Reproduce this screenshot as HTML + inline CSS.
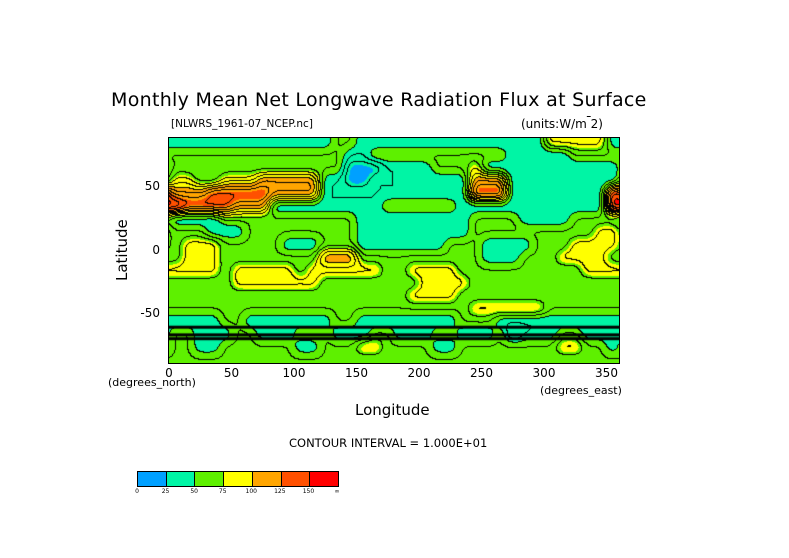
<!DOCTYPE html>
<html><head><meta charset="utf-8">
<style>
body{margin:0;background:#fff;}
#root{position:relative;width:789px;height:558px;background:#fff;font-family:"DejaVu Sans","Liberation Sans",sans-serif;color:#000;overflow:hidden}
.t{position:absolute;white-space:nowrap}
</style></head>
<body>
<div id="root">
<div class="t" style="left:111px;top:89px;font-size:19px;letter-spacing:0.3px">Monthly Mean Net Longwave Radiation Flux at Surface</div>
<div class="t" style="left:171px;top:118px;font-size:10.5px">[NLWRS_1961-07_NCEP.nc]</div>
<div class="t" style="left:521px;top:117px;font-size:12px">(units:W/m<span style="text-decoration:overline">&nbsp;</span>2)</div>
<canvas id="map" width="450" height="225" style="position:absolute;left:169px;top:138px"></canvas>
<div style="position:absolute;left:168px;top:137px;width:450px;height:225px;border:1px solid #000"></div>
<div class="t" style="left:92px;top:242px;font-size:15px;transform:rotate(-90deg);transform-origin:30px 9px;width:60px;text-align:center">Latitude</div>
<div class="t" style="left:108px;top:376px;font-size:11px">(degrees_north)</div>
<div class="t" style="left:540px;top:384px;font-size:11px">(degrees_east)</div>
<div class="t" style="left:355px;top:401px;font-size:15px">Longitude</div>
<div class="t" style="left:289px;top:436px;font-size:11.5px">CONTOUR INTERVAL = 1.000E+01</div>
<div id="cb" style="position:absolute;left:137px;top:471px;width:200px;height:14px;border:1px solid #000;display:flex"></div>
</div>
<script>
const lonTicks=[0,50,100,150,200,250,300,350];
const latTicks=[50,0,-50];
const levelColors=["#00a0ff","#00f5a5","#5ef000","#ffff00","#ffa500","#ff5000","#ff0000"];
const levelLabels=["0","25","50","75","100","125","150","\u221e"];
const codeValues={B:20,C:40,G:62,Y:85,O:112,D:135,R:160};
const rowLats=[85,75,65,55,45,35,25,15,5,-5,-15,-25,-35,-45,-55,-65,-75,-85];
const gridRows=[
"CCCCCCCCCCCCCGGCCCCCCCCCCCCCCCYYYYYC",
"GGGGGGGGGGGGGGCCGGGGGGGGGGGCCCCCGGGG",
"GGGGGGGGGGGGGGBBBCCCCGGGYCCCCCCCCCCC",
"YYGGYYYOOOOOCCBBCCCCCCCCOOOCCCCCCCCC",
"OOODDDDDOOOOCCCCCCCCCCCCDDDCCCCCCCCR",
"RDDDDOOOCCCCCCCCCGGGGGGCCCCCCCCCCCCR",
"CCCCGGGGGGGGGGGCCCCCCCCCGGGGCCCCGGGG",
"GGGCCCGGGGGGGGGCCCCCCCCCGGGGGGGGGGYY",
"GYYYGGGGGCCCGGGCCCCCCCGGGCCCCGGGYYYY",
"GYYYGGGGGGGGOOOGGGGGGGGGGCCCGGGYYYYG",
"YYYYGYYYYYGYYYYYYGGYYYYGGGGGGGGGGYYY",
"GGGGGYYYYYYYGGGGGGGGYYYYGGGGGGGGGGGG",
"GGGGGGGGGGGGGGGGGGGYYYYGGGGGGGGGGGGG",
"GGGGGGGGGGGGGGGGGGGGGGGGYYYYYYGGGGGG",
"CCCCGGCCCCCCCGGCCCCCCCCGGGCCCCCCCCCC",
"GGCCCGGCCCGGGCCCGGCCCGGCCCGBCCCGGCCC",
"GGCCGGGGGGCCGGGYYGGGGCCGGGGGGGGYYGGC",
"GGGGGGGGGGGGGGGGGGGGGGGGGGGGGGGGGGGG"];
const bandLats=[-60,-66,-69];
const X0=169,W=450,Y0=138,H=225,LATTOP=88,LATBOT=-88;
function xOf(lon){return X0+lon/360*W;}
function yOf(lat){return Y0+(LATTOP-lat)/(LATTOP-LATBOT)*H;}
function val(i,j){const r=gridRows[Math.max(0,Math.min(gridRows.length-1,j))];return codeValues[r[((i%36)+36)%36]];}
function field(lon,lat){
 let fi=(lon-5)/10; let fj=(rowLats[0]-lat)/10;
 fj=Math.max(0,Math.min(rowLats.length-1,fj));
 const i0=Math.floor(fi),j0=Math.floor(fj),a=fi-i0,b=fj-j0;
 return (1-a)*(1-b)*val(i0,j0)+a*(1-b)*val(i0+1,j0)+(1-a)*b*val(i0,j0+1)+a*b*val(i0+1,j0+1);
}
const cv=document.getElementById('map'),ctx=cv.getContext('2d');
const img=ctx.createImageData(W,H);
let vals=new Float32Array(W*H);
for(let y=0;y<H;y++)for(let x=0;x<W;x++){
 const lon=x/W*360,lat=LATTOP-y/H*(LATTOP-LATBOT);
 vals[y*W+x]=field(lon,lat);
}
// box blur to round shapes
function blur(src,r){
 const tmp=new Float32Array(W*H),out=new Float32Array(W*H);
 for(let y=0;y<H;y++)for(let x=0;x<W;x++){let s=0,n=0;for(let k=-r;k<=r;k++){const xx=((x+k)%W+W)%W;s+=src[y*W+xx];n++;}tmp[y*W+x]=s/n;}
 for(let y=0;y<H;y++)for(let x=0;x<W;x++){let s=0,n=0;for(let k=-r;k<=r;k++){const yy=Math.max(0,Math.min(H-1,y+k));s+=tmp[yy*W+x];n++;}out[y*W+x]=s/n;}
 return out;
}
vals=blur(vals,5);
function hex(c){return [parseInt(c.substr(1,2),16),parseInt(c.substr(3,2),16),parseInt(c.substr(5,2),16)];}
const rgb=levelColors.map(hex);
for(let y=0;y<H;y++)for(let x=0;x<W;x++){
 const v=vals[y*W+x];
 let k=Math.min(6,Math.max(0,Math.floor(v/25)));
 let c=rgb[k];
 const f=Math.floor(v/10);
 if((x+1<W&&Math.floor(vals[y*W+x+1]/10)!==f)||(y+1<H&&Math.floor(vals[(y+1)*W+x]/10)!==f))c=[0,0,0];
 const p=(y*W+x)*4;img.data[p]=c[0];img.data[p+1]=c[1];img.data[p+2]=c[2];img.data[p+3]=255;
}
ctx.putImageData(img,0,0);
ctx.fillStyle='#000';
bandLats.forEach(l=>{const y=yOf(l)-Y0;ctx.fillRect(0,y-1.5,W,3);});
const root=document.getElementById('root');
lonTicks.forEach(l=>{
 const d=document.createElement('div');d.className='t';
 
 
 d.textContent=l;d.style.fontSize='12px';d.style.top='366px';
 d.style.left=(xOf(l)-30)+'px';d.style.width='60px';d.style.textAlign='center';
 root.appendChild(d);
});
latTicks.forEach(l=>{
 const d=document.createElement('div');d.className='t';
 
 
 d.textContent=l;d.style.fontSize='12px';d.style.left='100px';d.style.width='60px';d.style.textAlign='right';
 d.style.top=(yOf(l)-8)+'px';
 root.appendChild(d);
});
const cb=document.getElementById('cb');
levelColors.forEach((c,i)=>{
 const s=document.createElement('div');
 
 
 s.style.flex='1';s.style.background=c;if(i>0)s.style.borderLeft='1px solid #000';
 cb.appendChild(s);
});
levelLabels.forEach((t,i)=>{
 const d=document.createElement('div');d.className='t';
 
 
 d.textContent=t;d.style.fontSize='6px';d.style.top='488px';
 d.style.left=(137+i*200/7-10)+'px';d.style.width='20px';d.style.textAlign='center';
 root.appendChild(d);
});
</script>
</body></html>
